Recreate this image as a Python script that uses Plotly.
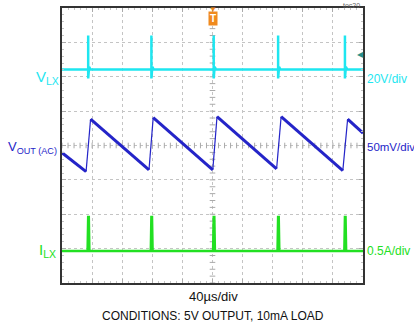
import plotly.graph_objects as go

# ---- data (in screen divisions: x 0-10 (40us/div), y 0-8) ----
switch_times = [0.87, 2.97, 5.04, 7.18, 9.40]
vlx_base = 6.21
vlx_peak = 7.20
vlx_dip = 5.95

vout_x = [0.00, 0.80, 0.95, 2.89, 3.03, 5.01, 5.15, 7.13, 7.28, 9.33, 9.49, 10.0]
vout_y = [3.79, 3.24, 4.77, 3.29, 4.81, 3.29, 4.84, 3.32, 4.84, 3.27, 4.77, 4.36]

ilx_base = 0.93
ilx_peak = 1.92

CYAN = "#1ee6f0"
BLUE = "#2424c8"
GREEN = "#22e022"
FONT = "Liberation Sans, Arial"

# build VLX trace
vx, vy = [0.0], [vlx_base]
for t in switch_times:
    vx += [t - 0.02, t, t, t, t + 0.03, t + 0.08]
    vy += [vlx_base, vlx_base, vlx_peak, vlx_dip, vlx_base + 0.08, vlx_base]
vx.append(10.0); vy.append(vlx_base)

# build ILX trace
ix, iy = [0.0], [ilx_base]
for t in switch_times:
    ix += [t - 0.02, t, t + 0.02, t + 0.04]
    iy += [ilx_base, ilx_peak, ilx_peak, ilx_base]
ix.append(10.0); iy.append(ilx_base)

# VOUT falling (thick) and rising (thin) segments
fall_x, fall_y, rise_x, rise_y = [], [], [], []
for i in range(len(vout_x) - 1):
    x0, x1 = vout_x[i], vout_x[i + 1]
    y0, y1 = vout_y[i], vout_y[i + 1]
    if y1 < y0:
        fall_x += [x0, x1, None]; fall_y += [y0, y1, None]
    else:
        rise_x += [x0, x1, None]; rise_y += [y0, y1, None]

fig = go.Figure()

# crosshair ticks
tick_pos = [i * 0.2 for i in range(51)]
fig.add_trace(go.Scatter(x=tick_pos, y=[4] * len(tick_pos), mode="markers",
                         marker=dict(symbol="line-ns", size=4, line=dict(width=1, color="#aaa")),
                         hoverinfo="skip", showlegend=False))
ytick_pos = [i * 0.2 for i in range(41)]
fig.add_trace(go.Scatter(x=[5] * len(ytick_pos), y=ytick_pos, mode="markers",
                         marker=dict(symbol="line-ew", size=4, line=dict(width=1, color="#aaa")),
                         hoverinfo="skip", showlegend=False))

fig.add_trace(go.Scatter(x=vx, y=vy, mode="lines", line=dict(color=CYAN, width=2.5), showlegend=False))
fig.add_trace(go.Scatter(x=fall_x, y=fall_y, mode="lines", line=dict(color=BLUE, width=3), showlegend=False))
fig.add_trace(go.Scatter(x=rise_x, y=rise_y, mode="lines", line=dict(color=BLUE, width=1.2), showlegend=False))
fig.add_trace(go.Scatter(x=ix, y=iy, mode="lines", line=dict(color=GREEN, width=2.5), showlegend=False))

axis_common = dict(showgrid=True, gridcolor="#c4c4c4", griddash="dot", gridwidth=1,
                   zeroline=False, showticklabels=False, showline=True, linecolor="#333",
                   linewidth=1.5, mirror="ticks", ticks="inside", ticklen=4, tickcolor="#aaa",
                   minor=dict(ticks="inside", ticklen=2, tickcolor="#c4c4c4", showgrid=False))
fig.update_xaxes(range=[0, 10], dtick=1, **axis_common)
fig.update_yaxes(range=[0, 8], dtick=1, **axis_common)
fig.update_xaxes(minor_dtick=0.2)
fig.update_yaxes(minor_dtick=0.2)

L, R, T, B = 62, 363, 6, 283
W, H = 414, 329
def px(x): return (x - L) / (R - L)
def py(y): return (B - y) / (B - T)

ann = []
def add(text, x, y, color, size, xanchor="left", yanchor="middle"):
    ann.append(dict(text=text, x=px(x), y=py(y), xref="paper", yref="paper", showarrow=False,
                    xanchor=xanchor, yanchor=yanchor, font=dict(color=color, size=size, family=FONT)))

add("V<sub>LX</sub>", 61, 76, CYAN, 15, "right")
add("20V/div", 365, 78, CYAN, 12)
add("V<sub>OUT (AC)</sub>", 59, 147, BLUE, 13, "right")
add("50mV/div", 365, 146, BLUE, 11.5)
add("I<sub>LX</sub>", 58, 250, GREEN, 15, "right")
add("0.5A/div", 365, 251, GREEN, 12)
add("40µs/div", 213, 297, "#111", 13, "center")
add("CONDITIONS: 5V OUTPUT, 10mA LOAD", 213, 316, "#111", 12, "center")
add("toc20", 362, 3, "#666", 7, "right")
add("◀", 360, 53, "#2a8f8a", 8, "center")

ann.append(dict(text="<b>T</b>", x=px(213), y=py(17), xref="paper", yref="paper", showarrow=False,
                font=dict(color="white", size=10, family=FONT), bgcolor="#f08a1e",
                borderpad=1, xanchor="center", yanchor="middle"))
ann.append(dict(text="▼", x=px(213), y=py(6), xref="paper", yref="paper", showarrow=False,
                font=dict(color="#f08a1e", size=8), xanchor="center", yanchor="middle"))

fig.update_layout(width=W, height=H, margin=dict(l=L, r=W - R, t=T, b=H - B),
                  paper_bgcolor="white", plot_bgcolor="white", annotations=ann)

fig.write_html("out.html")
